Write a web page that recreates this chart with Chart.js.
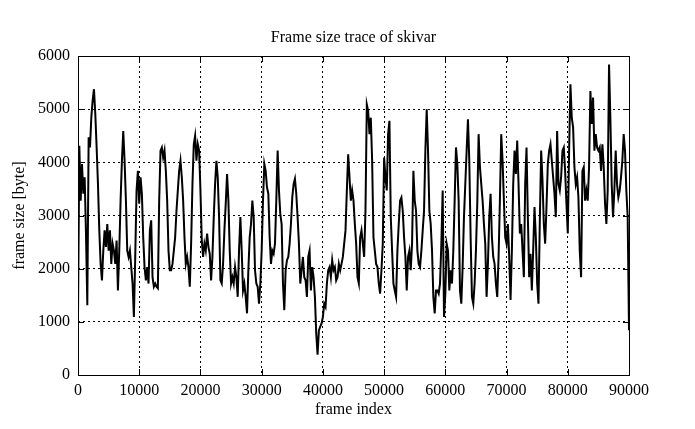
<!DOCTYPE html>
<html>
<head>
<meta charset="utf-8">
<script src="https://cdn.jsdelivr.net/npm/chart.js@4.4.1/dist/chart.umd.min.js"></script>
<style>
  html, body { margin: 0; padding: 0; background: #fff; }
</style>
</head>
<body>
<canvas id="trace" width="695" height="429"></canvas>
<script>
  "use strict";

  // frame size samples, roughly every 217 frames
  const sizes0 = [
    1094, 4310, 3280, 3970, 3410, 3720, 2660, 1310, 4470, 4280,
    4840, 5160, 5375, 4910, 4280, 3590, 2720, 2090, 1780, 2340,
    2720, 2410, 2840, 2340, 2720, 2090, 2470, 2340, 2090, 2530,
    1590, 2340, 3280, 4030, 4590, 4030, 3280, 2340, 2220, 2340,
    2030, 1720, 1090, 2220, 3470, 3840, 3220, 3720, 3410, 2590,
    2030, 1780, 2030, 1720, 2720, 2910, 1840, 1660, 1720, 1660,
    1630, 3280, 4220, 4280, 4090, 4220, 3840, 3280, 2340,
  ];
  const sizes1 = [
    1970, 1970, 2090, 2340, 2590, 3090, 3470, 3840, 4030, 3720,
    3280, 2590, 2090, 2220, 2030, 1660, 2470, 3590, 4340, 4500,
    4030, 4340, 4220, 3470, 2530, 2220, 2470, 2340, 2660, 2410,
    2280, 1780, 2220, 2970, 3590, 4030, 3720, 2970, 1780, 1720,
    2090, 2720, 3220, 3780, 3280, 2340, 1720, 1840, 1720, 2030,
    1840, 1470, 2340, 2970, 2340, 1590, 1720, 1470, 1160, 1970,
  ];
  const sizes2 = [
    2590, 2840, 3280, 2970, 1970, 1720, 1660, 1340, 1720, 2340,
    3280, 3970, 3840, 3530, 3410, 2590, 2090, 2340, 2280, 2470,
    3280, 4220, 3470, 3030, 2840, 1720, 1220, 1970, 2160, 2220,
    2470, 2840, 3340, 3590, 3690, 3410, 2970, 2470, 1720, 1970,
    2220, 1840, 1780, 1470, 2220, 2340, 1590, 2030, 1840, 1470,
    780, 380, 840, 910, 970, 1090, 1340, 1280, 1720, 1970,
    2030, 1840, 2160, 1970, 2030, 1780, 1840, 2090,
  ];
  const sizes3 = [
    1970, 2090, 2220, 2470, 2720, 3470, 4150, 3720, 3280, 3470,
    3280, 2840, 2470, 1840, 1720, 2590, 2720, 2470, 2220, 3090,
    5090, 4970, 4530, 4840, 4030, 2590, 2340, 2090, 2030, 1720,
    1530, 1970, 2470, 4090, 3720, 3470, 4530, 4780, 2970, 2340,
    1720, 1590, 1470, 2340, 2840, 3280, 3340, 3090, 2590, 2220,
    1590, 2220, 2340, 1970, 2470, 3840, 3280, 3090, 2340, 2090,
    2030, 2340, 2720, 3090, 4220, 5000, 4220, 3090,
  ];
  const sizes4 = [
    2840, 2340, 1470, 1160, 1590, 1590, 1530, 1720, 2470, 3470,
    1090, 1530, 2470, 2340, 1590, 1970, 1720, 2340, 3280, 4280,
    3970, 3280, 1590, 1340, 2030, 2970, 3590, 4220, 4810, 4030,
    2590, 1470, 1340, 1720, 2340, 3220, 4530, 3910, 3590, 3280,
    2840, 2470, 1470, 2090, 2970, 3410, 2590, 2220, 2090, 1720,
    1470, 2220, 3280, 4530, 4030, 3280, 2590, 2470, 2840, 2220,
    1410, 2340, 3590, 4220, 3780, 4410, 3590, 2660,
  ];
  const sizes5 = [
    2840, 2340, 1840, 3590, 4280, 2970, 1840, 2280, 1590, 2340,
    3160, 2590, 1720, 1340, 2910, 4220, 3660, 2840, 2470, 3160,
    3970, 4220, 4340, 4030, 3720, 3410, 2970, 4590, 3590, 3470,
    3720, 4220, 4280, 3840, 3220, 2660, 4220, 5470, 4840, 4660,
    3910, 3590, 3720, 3340, 2340, 1840, 3840, 3910, 3280, 3470,
    3280, 3910, 5340, 4720, 5220, 4220, 4530, 4280, 4220, 4280,
    3840, 4340, 3910, 3220, 2840, 3470, 5840, 4840, 3590, 2970,
    3470, 4220, 3590, 3340, 3470, 3720, 4030, 4530, 4220, 3470,
    2970, 840,
  ];

  const lastFrame = 90000;
  const xTicks = [0, 10000, 20000, 30000, 40000, 50000, 60000, 70000, 80000, 90000];
  const yTicks = [0, 1000, 2000, 3000, 4000, 5000, 6000];
  const titleText = "Frame size trace of skivar";

  const sizes = [].concat(sizes0, sizes1, sizes2, sizes3, sizes4, sizes5);
  const points = sizes.map((v, i) => ({x: i * lastFrame / (sizes.length - 1), y: v}));

  const FONT = {family: "'Liberation Serif', 'DejaVu Serif', serif", size: 16};

  // gnuplot style: closed frame, short inward ticks, title centred on the plot box
  const framePlugin = {
    id: "frame",
    afterDraw(chart) {
      const {ctx, chartArea: a, scales} = chart;
      ctx.save();
      ctx.strokeStyle = "#000";
      ctx.lineWidth = 1;
      ctx.beginPath();
      xTicks.forEach((t) => {
        const px = Math.round(scales.x.getPixelForValue(t)) + 0.5;
        ctx.moveTo(px, a.bottom); ctx.lineTo(px, a.bottom - 6);
        ctx.moveTo(px, a.top); ctx.lineTo(px, a.top + 6);
      });
      yTicks.forEach((t) => {
        const py = Math.round(scales.y.getPixelForValue(t)) + 0.5;
        ctx.moveTo(a.left, py); ctx.lineTo(a.left + 6, py);
        ctx.moveTo(a.right, py); ctx.lineTo(a.right - 6, py);
      });
      ctx.stroke();
      ctx.strokeRect(Math.round(a.left) + 0.5, Math.round(a.top) + 0.5,
        Math.round(a.right - a.left), Math.round(a.bottom - a.top));

      ctx.fillStyle = "#000";
      ctx.font = `${FONT.size}px ${FONT.family}`;
      ctx.textAlign = "center";
      ctx.textBaseline = "middle";
      ctx.fillText(titleText, (a.left + a.right) / 2, 38);
      ctx.restore();
    },
  };

  new Chart(document.getElementById("trace"), {
    type: "line",
    data: {
      datasets: [{
        data: points,
        borderColor: "#000",
        borderWidth: 2,
        pointRadius: 0,
        tension: 0,
        fill: false,
      }],
    },
    options: {
      responsive: false,
      animation: false,
      events: [],
      layout: {padding: {left: 10, right: 66, top: 56, bottom: 10}},
      plugins: {
        legend: {display: false},
        tooltip: {enabled: false},
        title: {display: false},
      },
      scales: {
        x: {
          type: "linear",
          min: 0,
          max: lastFrame,
          afterFit: (s) => { s.height = 44; },
          afterBuildTicks: (s) => { s.ticks = xTicks.map((v) => ({value: v})); },
          grid: {color: "#000", lineWidth: 1, drawTicks: false},
          border: {display: false, dash: [2, 3]},
          ticks: {color: "#000", font: FONT, padding: 6, maxRotation: 0, callback: (v) => String(v)},
          title: {display: true, text: "frame index", color: "#000", font: FONT, padding: 0},
        },
        y: {
          min: 0,
          max: 6000,
          afterFit: (s) => { s.width = 68; },
          afterBuildTicks: (s) => { s.ticks = yTicks.map((v) => ({value: v})); },
          grid: {color: "#000", lineWidth: 1, drawTicks: false},
          border: {display: false, dash: [2, 3]},
          ticks: {color: "#000", font: FONT, padding: 8, callback: (v) => String(v)},
          title: {display: true, text: "frame size [byte]", color: "#000", font: FONT, padding: 0},
        },
      },
    },
    plugins: [framePlugin],
  });
</script>
</body>
</html>
